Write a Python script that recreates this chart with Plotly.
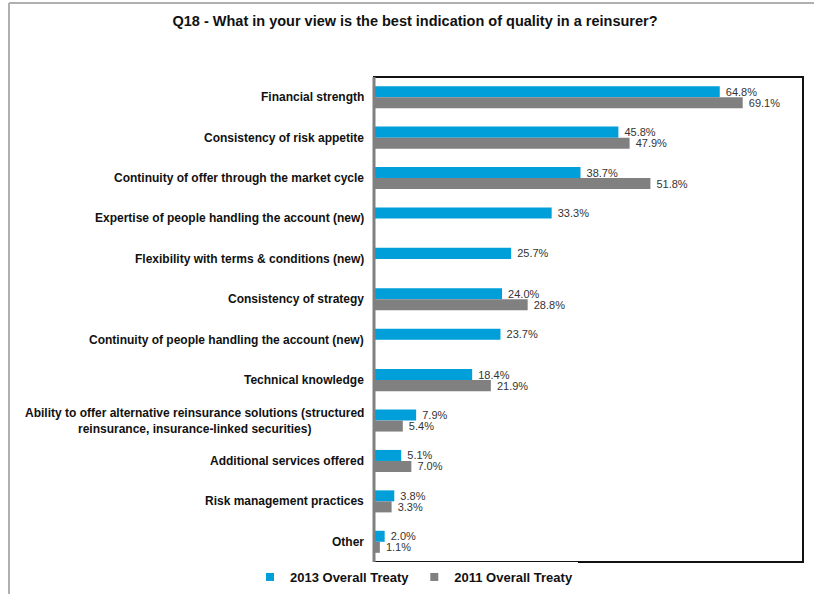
import plotly.graph_objects as go

categories = [
    "Financial strength",
    "Consistency of risk appetite",
    "Continuity of offer through the market cycle",
    "Expertise of people handling the account (new)",
    "Flexibility with terms & conditions (new)",
    "Consistency of strategy",
    "Continuity of people handling the account (new)",
    "Technical knowledge",
    "Ability to offer alternative reinsurance solutions (structured<br>reinsurance, insurance-linked securities)",
    "Additional services offered",
    "Risk management practices",
    "Other",
]
values_2013 = [64.8, 45.8, 38.7, 33.3, 25.7, 24.0, 23.7, 18.4, 7.9, 5.1, 3.8, 2.0]
values_2011 = [69.1, 47.9, 51.8, None, None, 28.8, None, 21.9, 5.4, 7.0, 3.3, 1.1]
series_names = ["2013 Overall Treaty", "2011 Overall Treaty"]
series_colors = ["#009FDA", "#808080"]

W, H = 814, 594
ML, MR, MT, MB = 374, 11, 77, 32
PW = W - ML - MR
PH = H - MT - MB

def px_x(px):
    return (px - ML) / PW

def px_y(py):
    return 1 - (py - MT) / PH

ids = list(range(len(categories)))

fig = go.Figure()
for name, vals, col in zip(series_names, [values_2013, values_2011], series_colors):
    fig.add_trace(go.Bar(
        y=ids, x=vals, orientation="h", name=name,
        marker=dict(color=col, line=dict(width=0)),
        text=[None if v is None else f"\u00a0{v:.1f}%" for v in vals],
        textposition="outside", cliponaxis=False, constraintext="none",
        textfont=dict(family="Liberation Sans, Arial", size=11, color="#333333"),
        showlegend=False, hoverinfo="skip",
    ))
    # legend entry with a small square swatch
    fig.add_trace(go.Scatter(
        x=[None], y=[None], mode="markers", name=f"<b>{name}</b>",
        marker=dict(symbol="square", size=8, color=col),
    ))

# category labels, centred for the two-line entry
for i, cat in enumerate(categories):
    fig.add_annotation(
        x=px_x(366), xref="paper", y=i, yref="y",
        text=f"<b>{cat}</b>", showarrow=False,
        xanchor="right", yanchor="middle", align="center",
        font=dict(family="Liberation Sans, Arial", size=12, color="#111111"),
    )

shapes = [
    # plot frame
    dict(type="rect", xref="paper", yref="paper", x0=0, x1=1, y0=0, y1=1,
         line=dict(color="#111111", width=2)),
    # left axis line
    dict(type="line", xref="paper", yref="paper", x0=0, x1=0, y0=0, y1=1,
         line=dict(color="#808080", width=3)),
    # outer page border
    dict(type="line", xref="paper", yref="paper", x0=px_x(9), x1=px_x(9),
         y0=px_y(3), y1=px_y(H + 5), line=dict(color="#B0B0B0", width=2)),
    dict(type="line", xref="paper", yref="paper", x0=px_x(9), x1=px_x(W + 5),
         y0=px_y(3), y1=px_y(3), line=dict(color="#B0B0B0", width=2)),
]

fig.update_layout(
    width=W, height=H,
    margin=dict(l=ML, r=MR, t=MT, b=MB, autoexpand=False),
    paper_bgcolor="white", plot_bgcolor="white",
    barmode="group", bargap=0.455, bargroupgap=0,
    title=dict(
        text="<b>Q18 - What in your view is the best indication of quality in a reinsurer?</b>",
        x=415 / W, xref="container", xanchor="center", y=1 - 21 / H, yanchor="middle",
        font=dict(family="Liberation Sans, Arial", size=14.5, color="#111111"),
    ),
    xaxis=dict(range=[0, 80.4], visible=False, showgrid=False, zeroline=False),
    yaxis=dict(range=[len(categories) - 0.5, -0.5], showticklabels=False,
               showgrid=False, zeroline=False, ticks=""),
    legend=dict(
        orientation="h", x=414 / W, xref="container",
        xanchor="center", y=1 - 577 / H, yref="container", yanchor="middle",
        font=dict(family="Liberation Sans, Arial", size=13, color="#111111"),
        itemwidth=30, traceorder="normal",
    ),
    shapes=shapes,
)

fig.write_html("out.html")
